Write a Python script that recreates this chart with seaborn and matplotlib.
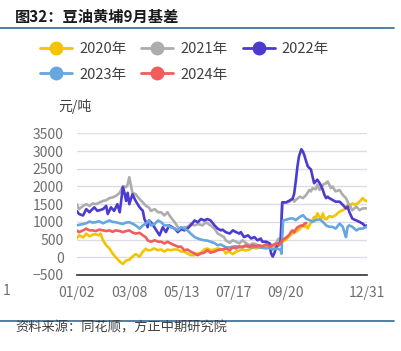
import matplotlib
matplotlib.use('Agg')
import matplotlib.pyplot as plt
import pandas as pd
import seaborn as sns
from matplotlib.lines import Line2D

# ---- data (day of year -> basis, 元/吨) ----
days_2020 = [2, 5, 10, 14, 18, 22, 26, 30, 32, 35, 39, 43, 47, 51, 56, 60, 64, 68, 72, 76,
             81, 85, 89, 91, 95, 99, 104, 108, 112, 116, 120, 124, 129, 133, 137, 141, 145, 150, 154, 158,
             162, 166, 170, 175, 179, 183, 187, 189, 193, 198, 202, 206, 210, 214, 219, 223, 227, 231, 235, 239,
             244, 248, 252, 256, 260, 265, 269, 273, 277, 281, 286, 288, 290, 292, 294, 298, 300, 302, 304, 306,
             309, 311, 313, 315, 319, 323, 327, 332, 336, 340, 342, 344, 348, 352, 357, 359, 361, 363, 366]
vals_2020 = [530, 620, 560, 670, 590, 640, 650, 620, 670, 480, 340, 250, 110, 0, -120, -190, -90, -70, 20, 90,
             20, 160, 240, 200, 200, 250, 200, 220, 160, 220, 200, 220, 220, 160, 160, 110, 60, 60, 110, 130,
             220, 250, 200, 220, 250, 230, 200, 110, 160, 90, 160, 190, 220, 190, 220, 280, 250, 280, 300, 280,
             310, 280, 310, 340, 440, 500, 600, 680, 720, 780, 900, 860, 900, 810, 900, 1050, 1140, 1090, 1240, 1160,
             1090, 1240, 1090, 1070, 1160, 1140, 1190, 1290, 1330, 1380, 1480, 1430, 1520, 1480, 1570, 1620, 1670, 1620, 1580]

days_2021 = [2, 5, 10, 14, 18, 22, 26, 31, 35, 39, 43, 47, 51, 56, 60, 64, 66, 68, 71, 72,
             76, 81, 85, 89, 93, 95, 100, 104, 108, 112, 116, 120, 125, 129, 133, 137, 141, 145, 150, 154,
             160, 164, 170, 175, 179, 183, 187, 189, 194, 198, 202, 206, 210, 214, 219, 223, 227, 231, 235, 240,
             244, 248, 252, 254, 256, 258, 260, 265, 269, 273, 275, 277, 282, 286, 290, 294, 296, 298, 302, 304,
             307, 309, 311, 315, 317, 319, 321, 323, 327, 332, 336, 340, 342, 344, 348, 353, 357, 361, 366]
vals_2021 = [1500, 1360, 1450, 1500, 1450, 1520, 1500, 1550, 1590, 1610, 1670, 1690, 1730, 1820, 2010, 1980, 2060, 2260, 1920, 1820,
             1780, 1640, 1550, 1450, 1400, 1310, 1360, 1270, 1270, 1180, 1270, 1130, 990, 850, 760, 850, 850, 940, 900, 940,
             900, 990, 900, 810, 670, 620, 570, 480, 410, 480, 440, 390, 480, 410, 340, 390, 370, 310, 310, 340,
             390, 340, 340, 480, 530, 440, 1550, 1550, 1570, 1670, 1570, 1620, 1710, 1670, 1760, 1900, 1860, 1950, 1920, 2050,
             1900, 1950, 2050, 2090, 2140, 2050, 1950, 2000, 1860, 1900, 1760, 1670, 1570, 1480, 1330, 1430, 1330, 1380, 1380]

days_2022 = [2, 5, 10, 14, 18, 24, 28, 35, 39, 41, 45, 49, 53, 56, 60, 62, 64, 66, 68, 72,
             76, 81, 85, 87, 89, 91, 93, 97, 102, 106, 110, 114, 118, 125, 129, 133, 137, 141, 145, 150,
             154, 158, 162, 166, 170, 175, 179, 183, 185, 189, 194, 198, 202, 206, 208, 212, 217, 221, 225, 229,
             233, 235, 240, 244, 246, 248, 250, 252, 254, 256, 258, 260, 265, 269, 273, 275, 277, 279, 281, 284,
             286, 288, 290, 292, 294, 296, 298, 300, 302, 304, 307, 309, 311, 313, 315, 317, 319, 323, 327, 332,
             336, 340, 342, 344, 346, 348, 352, 357, 359, 361, 363, 365, 366]
vals_2022 = [1310, 1220, 1180, 1360, 1270, 1410, 1310, 1360, 1450, 1220, 1410, 1310, 1500, 1270, 1980, 1820, 1590, 1820, 1500, 1780,
             1590, 1410, 1310, 1080, 990, 850, 1040, 940, 760, 620, 850, 710, 900, 810, 710, 810, 760, 810, 900, 1040,
             990, 1080, 1040, 1080, 1040, 900, 810, 760, 780, 710, 670, 760, 710, 670, 710, 570, 620, 530, 570, 480,
             530, 440, 440, 390, 110, 20, 110, 250, 340, 390, 440, 1550, 1550, 1600, 1650, 1800, 2150, 2550, 2850, 3050,
             2980, 2860, 2710, 2570, 2520, 2480, 2280, 2090, 2140, 2190, 2090, 2000, 1900, 1760, 1670, 1710, 1670, 1620, 1570, 1570,
             1480, 1380, 1430, 1290, 1190, 1090, 1050, 1000, 970, 950, 900, 860, 900]

days_2023 = [2, 6, 10, 14, 18, 22, 26, 30, 35, 39, 43, 47, 51, 56, 60, 64, 68, 72, 76, 81,
             85, 89, 93, 95, 100, 104, 108, 112, 116, 120, 125, 129, 133, 137, 141, 145, 150, 154, 158, 162,
             166, 170, 175, 179, 183, 187, 189, 194, 198, 202, 206, 210, 214, 219, 223, 227, 231, 235, 240, 244,
             248, 252, 254, 258, 259, 261, 265, 269, 273, 277, 282, 286, 290, 294, 298, 302, 307, 311, 315, 319,
             323, 327, 332, 336, 338, 340, 342, 344, 348, 353, 357, 361, 366]
vals_2023 = [900, 920, 940, 960, 1010, 980, 990, 1020, 960, 1000, 1040, 1000, 990, 960, 940, 980, 990, 950, 900, 810,
             900, 950, 1040, 900, 940, 1040, 990, 900, 900, 850, 810, 760, 850, 810, 760, 670, 570, 530, 500, 480,
             470, 440, 400, 340, 360, 310, 280, 280, 300, 310, 280, 300, 310, 290, 280, 300, 280, 270, 250, 270,
             220, 240, 250, 200, 100, 1040, 1060, 1090, 1100, 1050, 1140, 1190, 1090, 1050, 1000, 1050, 1070, 1000, 900, 860,
             860, 810, 950, 860, 710, 570, 860, 900, 860, 760, 810, 810, 860]

days_2024 = [2, 5, 10, 14, 18, 22, 26, 30, 35, 39, 43, 47, 51, 56, 60, 64, 68, 72, 76, 81,
             85, 89, 91, 95, 100, 104, 108, 112, 116, 120, 125, 129, 133, 137, 141, 145, 150, 154, 158, 162,
             166, 170, 175, 179, 183, 185, 189, 194, 198, 202, 206, 210, 214, 219, 223, 227, 231, 235, 240, 244,
             248, 252, 256, 260, 265, 269, 271, 273, 275, 277, 279, 281, 284, 286, 288, 290]
vals_2024 = [760, 710, 760, 810, 760, 760, 740, 780, 760, 740, 760, 720, 760, 740, 710, 740, 760, 700, 670, 690,
             620, 560, 480, 440, 480, 440, 440, 390, 440, 390, 340, 300, 300, 200, 220, 160, 110, 60, 110, 130,
             200, 130, 160, 200, 220, 220, 250, 200, 280, 250, 310, 280, 340, 300, 340, 310, 340, 310, 370, 310,
             340, 390, 340, 480, 560, 640, 720, 760, 700, 790, 840, 870, 900, 890, 950, 970]

years  = ['2020年', '2021年', '2022年', '2023年', '2024年']
colors = ['#F5C400', '#ADADAD', '#4B3BD0', '#66A7E0', '#F25C5C']

tick_days   = [2, 68, 134, 199, 264, 331, 366]
tick_labels = ['01/02', '03/08', '05/13', '07/17', '09/20', '', '12/31']


def draw():
    sns.set_style('white')
    plt.rcParams['font.family'] = ['Noto Sans CJK SC', 'DejaVu Sans']

    frames = []
    for yr, d, v in zip(years,
                        [days_2020, days_2021, days_2022, days_2023, days_2024],
                        [vals_2020, vals_2021, vals_2022, vals_2023, vals_2024]):
        frames.append(pd.DataFrame({'day': d, 'basis': v, 'year': yr}))
    df = pd.concat(frames, ignore_index=True)

    fig = plt.figure(figsize=(4.02, 3.51), dpi=100)
    ax = fig.add_axes([76.7 / 402, 1 - 275 / 351, 290 / 402, (275 - 133.3) / 351])

    sns.lineplot(data=df, x='day', y='basis', hue='year', hue_order=years,
                 palette=colors, estimator=None, sort=False, linewidth=1.9,
                 legend=False, ax=ax)

    ax.set_xlim(2, 366)
    ax.set_ylim(-500, 3500)
    ax.set_yticks(range(-500, 3501, 500))
    ax.yaxis.grid(True, color='#DCDCE6', linewidth=1.0)
    ax.set_axisbelow(True)
    ax.set_xticks(tick_days)
    ax.set_xticklabels(tick_labels)
    ax.set_xlabel('')
    ax.set_ylabel('')
    for s in ['left', 'top', 'right']:
        ax.spines[s].set_visible(False)
    ax.spines['bottom'].set_color('#333333')
    ax.spines['bottom'].set_linewidth(1.2)
    ax.tick_params(axis='y', length=0, pad=9.5, labelsize=10, labelcolor='#6E6E6E')
    ax.tick_params(axis='x', length=5, width=1.0, color='#333333', pad=3,
                   labelsize=10, labelcolor='#6E6E6E')

    # legend: matplotlib fills columns first, so reorder to read row-wise
    handles = [Line2D([], [], color=c, lw=2, marker='o', markersize=9) for c in colors]
    order = [0, 3, 1, 4, 2]
    fig.legend([handles[i] for i in order], [years[i] for i in order],
               loc='upper left', bbox_to_anchor=(0.085, 1 - 36 / 351),
               ncol=3, frameon=False, fontsize=10.5, labelcolor='#404040',
               handlelength=2.2, handletextpad=0.5, columnspacing=1.0,
               labelspacing=0.8, borderaxespad=0)

    # title, rules and notes
    fig.text(15 / 402, 1 - 17 / 351, '图32：豆油黄埔9月基差', fontsize=11,
             fontweight='bold', color='#1A1A1A', va='center', ha='left')
    fig.add_artist(Line2D([0, 394 / 402], [1 - 28.3 / 351] * 2, color='#2F6A97', lw=1.2))
    fig.add_artist(Line2D([0, 394 / 402], [1 - 320.7 / 351] * 2, color='#2F6A97', lw=1.2))
    fig.text(58 / 402, 1 - 107 / 351, '元/吨', fontsize=10, color='#404040', va='center', ha='left')
    fig.text(3 / 402, 1 - 291 / 351, '1', fontsize=10, color='#6E6E6E', va='center', ha='left')
    fig.text(15 / 402, 1 - 328 / 351, '资料来源：同花顺，方正中期研究院', fontsize=9.5,
             style='italic', color='#404040', va='center', ha='left')

    fig.savefig('out.png', dpi=100)


if __name__ == '__main__':
    draw()
